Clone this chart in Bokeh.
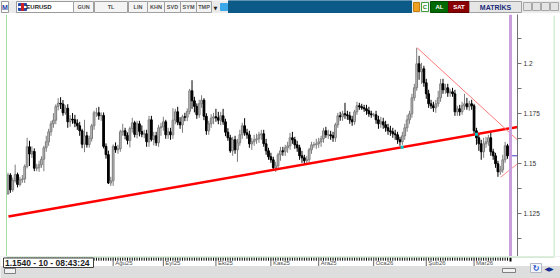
import numpy as np
from bokeh.plotting import figure
from bokeh.models import Range1d, LinearAxis, FixedTicker, Span
from bokeh.layouts import column, row
from bokeh.embed import file_html
from bokeh.resources import INLINE
from bokeh.core.properties import value

# ---------------- data (EURUSD daily candles) ----------------
first_open = 1.1350
closes = [
    1.1443, 1.1370, 1.1416, 1.1446, 1.1397, 1.1420, 1.1424, 1.1487, 1.1585, 1.1549,
    1.1562, 1.1478, 1.1480, 1.1495, 1.1523, 1.1580, 1.1610, 1.1660, 1.1700, 1.1718,
    1.1787, 1.1803, 1.1799, 1.1755, 1.1778, 1.1710, 1.1724, 1.1720, 1.1703, 1.1690,
    1.1665, 1.1598, 1.1640, 1.1596, 1.1626, 1.1690, 1.1755, 1.1755, 1.1740, 1.1742,
    1.1587, 1.1546, 1.1404, 1.1415, 1.1587, 1.1570, 1.1575, 1.1660, 1.1665, 1.1642,
    1.1617, 1.1676, 1.1705, 1.1647, 1.1700, 1.1662, 1.1648, 1.1650, 1.1610, 1.1720,
    1.1622, 1.1640, 1.1605, 1.1680, 1.1685, 1.1710, 1.1645, 1.1660, 1.1645, 1.1718,
    1.1760, 1.1708, 1.1695, 1.1735, 1.1733, 1.1762, 1.1865, 1.1815, 1.1787, 1.1745,
    1.1800, 1.1818, 1.1738, 1.1665, 1.1700, 1.1728, 1.1735, 1.1730, 1.1718, 1.1740,
    1.1710, 1.1658, 1.1630, 1.1565, 1.1620, 1.1570, 1.1605, 1.1645, 1.1690, 1.1655,
    1.1645, 1.1600, 1.1610, 1.1620, 1.1625, 1.1645, 1.1650, 1.1600, 1.1565, 1.1535,
    1.1520, 1.1480, 1.1490, 1.1545, 1.1565, 1.1560, 1.1580, 1.1590, 1.1630, 1.1620,
    1.1595, 1.1580, 1.1540, 1.1530, 1.1515, 1.1520, 1.1570, 1.1595, 1.1595, 1.1600,
    1.1610, 1.1625, 1.1665, 1.1645, 1.1645, 1.1640, 1.1630, 1.1695, 1.1740, 1.1735,
    1.1750, 1.1745, 1.1740, 1.1720, 1.1710, 1.1760, 1.1790, 1.1785, 1.1780, 1.1775,
    1.1765, 1.1750, 1.1745, 1.1745, 1.1720, 1.1700, 1.1710, 1.1695, 1.1680, 1.1665,
    1.1660, 1.1650, 1.1645, 1.1620, 1.1610, 1.1640, 1.1680, 1.1720, 1.1750, 1.1830,
    1.1880, 1.2000, 1.1960, 1.1975, 1.1905, 1.1850, 1.1800, 1.1790, 1.1780, 1.1800,
    1.1830, 1.1900, 1.1870, 1.1880, 1.1855, 1.1860, 1.1850, 1.1760, 1.1775, 1.1760,
    1.1790, 1.1800, 1.1785, 1.1800, 1.1790, 1.1665, 1.1630, 1.1600, 1.1560, 1.1600,
    1.1610, 1.1630, 1.1560, 1.1540, 1.1500, 1.1460, 1.1470, 1.1520, 1.1590, 1.1540,
]
upper_wick_pips = [
    12, 10, 15, 50, 10, 15, 20, 10, 45, 30,
    25, 15, 20, 20, 15, 10, 30, 15, 15, 35,
    10, 25, 30, 20, 15, 20, 20, 30, 25, 20,
    20, 10, 80, 20, 15, 10, 10, 25, 30, 15,
    15, 15, 20, 20, 10, 20, 20, 10, 35, 15,
    15, 10, 25, 10, 15, 15, 30, 20, 20, 20,
    20, 20, 20, 15, 20, 25, 10, 20, 20, 60,
    15, 25, 25, 10, 20, 15, 10, 53, 20, 15,
    20, 25, 10, 15, 15, 20, 20, 40, 30, 20,
    35, 15, 20, 15, 15, 20, 20, 25, 15, 38,
    20, 20, 20, 25, 25, 15, 20, 20, 25, 15,
    20, 15, 20, 10, 20, 20, 15, 20, 25, 30,
    15, 20, 15, 25, 15, 20, 10, 15, 15, 25,
    20, 15, 15, 20, 25, 20, 20, 10, 15, 20,
    15, 55, 20, 20, 20, 10, 20, 15, 15, 15,
    20, 20, 15, 10, 20, 20, 25, 20, 20, 20,
    25, 20, 20, 15, 15, 20, 20, 25, 15, 20,
    20, 80, 40, 30, 15, 20, 20, 20, 20, 20,
    35, 25, 25, 20, 20, 15, 20, 20, 15, 20,
    20, 50, 30, 15, 20, 10, 15, 25, 20, 30,
    25, 15, 35, 15, 15, 15, 20, 25, 20, 10,
]
lower_wick_pips = [
    5, 15, 10, 10, 15, 10, 15, 20, 10, 60,
    20, 15, 15, 20, 15, 60, 20, 20, 20, 20,
    20, 20, 25, 15, 10, 30, 25, 20, 20, 20,
    25, 20, 40, 15, 15, 15, 20, 20, 20, 25,
    10, 20, 5, 15, 25, 15, 20, 15, 20, 20,
    20, 35, 20, 15, 20, 25, 15, 20, 25, 25,
    10, 30, 15, 20, 40, 20, 20, 20, 25, 20,
    20, 15, 20, 40, 20, 20, 15, 40, 30, 20,
    15, 20, 20, 20, 20, 20, 30, 20, 20, 25,
    15, 20, 15, 10, 25, 20, 60, 15, 20, 15,
    20, 20, 30, 20, 20, 20, 25, 15, 20, 15,
    15, 10, 20, 20, 30, 20, 20, 25, 20, 20,
    20, 20, 20, 25, 20, 15, 15, 20, 15, 20,
    20, 25, 20, 15, 20, 20, 20, 20, 15, 20,
    20, 20, 20, 20, 20, 15, 15, 15, 10, 15,
    20, 15, 15, 10, 20, 25, 20, 20, 20, 20,
    20, 20, 25, 20, 20, 15, 20, 20, 20, 20,
    15, 15, 40, 60, 20, 25, 20, 15, 20, 25,
    15, 20, 20, 20, 20, 20, 15, 20, 20, 20,
    15, 20, 15, 20, 20, 20, 35, 35, 40, 30,
    20, 20, 20, 20, 20, 25, 15, 15, 15, 15,
]
month_labels = ["Ağu25", "Eyl25", "Eki25", "Kas25", "Ara25", "Oca26", "Şub26", "Mar26"]
month_start_idx = [44, 65, 87, 110, 130, 153, 175, 195]
y_major_ticks = [1.125, 1.15, 1.175, 1.2]
y_major_labels = ["1.125", "1.15", "1.175", "1.2"]
y_minor_ticks = [1.1125, 1.1375, 1.1625, 1.1875, 1.2125]
trend_main_x = [0.2, 213.2]
trend_main_y = [1.1237, 1.1684]
trend_upper_x = [171.2, 213.2]
trend_upper_y = [1.2080, 1.1619]
trend_small_x = [206.1, 213.2]
trend_small_y = [1.1433, 1.1500]
anchor_idx = [164.9, 196.0]
cursor_idx = 210.25
last_price = 1.1540
status_text = "1.1540 - 10 - 08:43:24"
symbol = "EURUSD"

# ---------------- layout constants ----------------
X0, K = 7.5, 2.39            # pixel of candle 0, pixels per candle
FRAME_W = 517                # chart frame right edge (price axis line)
Y_TOP = 1.2 + (63.3 - 14) / 2000.0
Y_BOT = 1.2 - (256 - 63.3) / 2000.0
FONT_NAME = "Liberation Sans"
FONT = value(FONT_NAME)
GREEN = "#a6dca6"


def px_to_idx(px):
    return (px - X0) / K


N = len(closes)
idx = np.arange(N)
c = np.array(closes)
o = np.array([first_open] + closes[:-1])
hi = np.maximum(o, c) + np.array(upper_wick_pips) / 10000.0
lo = np.minimum(o, c) - np.array(lower_wick_pips) / 10000.0
up = c >= o
body_fill = np.where(up, "#c4c4c4", "#000000")
body_line = np.where(up, "#7c7c7c", "#000000")

x_start = px_to_idx(0)
x_end = px_to_idx(FRAME_W)

# ---------------- main chart ----------------
p = figure(width=553, height=243, x_range=Range1d(x_start, x_end),
           y_range=Range1d(Y_BOT, Y_TOP), output_backend="svg",
           toolbar_location=None, x_axis_location=None, y_axis_location=None,
           min_border_left=0, min_border_top=1, min_border_right=36, min_border_bottom=0)
p.background_fill_color = "white"
p.border_fill_color = "white"
p.outline_line_color = None
p.grid.visible = False

p.add_layout(Span(location=px_to_idx(6), dimension="height", line_color=GREEN, line_width=1))

p.segment(x0=idx, y0=lo, x1=idx, y1=hi, line_color=list(body_line), line_width=1)
p.vbar(x=idx, width=0.72, top=np.maximum(o, c), bottom=np.minimum(o, c),
       fill_color=list(body_fill), line_color=list(body_line), line_width=1)

p.line(trend_main_x, trend_main_y, line_color="#ff0000", line_width=2.5)
p.line(trend_upper_x, trend_upper_y, line_color="#ff7878", line_width=1)
p.line(trend_small_x, trend_small_y, line_color="#ff8c8c", line_width=1)
p.scatter(anchor_idx, np.interp(anchor_idx, trend_main_x, trend_main_y),
          marker="square", size=3, fill_color="#00c8c8", line_color=None)

p.add_layout(Span(location=cursor_idx, dimension="height", line_color="#c9a0dc", line_width=3))
p.segment(x0=[cursor_idx], x1=[x_end], y0=[last_price], y1=[last_price],
          line_color="#3c3cc8", line_width=1)

yax = LinearAxis(ticker=FixedTicker(ticks=y_major_ticks, minor_ticks=y_minor_ticks),
                 major_label_overrides=dict(zip(y_major_ticks, y_major_labels)))
yax.axis_line_color = "#707070"
yax.major_tick_line_color = "#707070"
yax.minor_tick_line_color = "#707070"
yax.major_tick_in = 0
yax.major_tick_out = 4
yax.minor_tick_in = 0
yax.minor_tick_out = 4
yax.major_label_standoff = 2
yax.major_label_text_font = FONT_NAME
yax.major_label_text_font_size = "6.5px"
yax.major_label_text_color = "#303030"
p.add_layout(yax, "right")

# ---------------- right edge strip (green panel border) ----------------
s = figure(width=7, height=243, x_range=Range1d(0, 7), y_range=Range1d(243, 0),
           output_backend="svg", toolbar_location=None, x_axis_location=None,
           y_axis_location=None, min_border=0)
s.outline_line_color = None
s.grid.visible = False
s.background_fill_color = "white"
s.quad(left=[0], right=[1], top=[1], bottom=[243], fill_color=GREEN, line_color=None)

# ---------------- bottom: date axis strip + status bar ----------------
b_x_end = px_to_idx(560)
b = figure(width=560, height=22, x_range=Range1d(x_start, b_x_end), y_range=Range1d(22, 0),
           output_backend="svg", toolbar_location=None, x_axis_location=None,
           y_axis_location=None, min_border=0)
b.outline_line_color = None
b.grid.visible = False
b.background_fill_color = "#dedede"
# white date strip and green bottom border of the chart panel
b.quad(left=[x_start], right=[b_x_end], top=[0], bottom=[9.5], fill_color="white", line_color=None)
b.quad(left=[px_to_idx(6)], right=[px_to_idx(554)], top=[0], bottom=[1], fill_color=GREEN, line_color=None)
# day ticks and month ticks
b.segment(x0=idx, x1=idx, y0=[1.2] * N, y1=[4.2] * N, line_color="#000000", line_width=1)
b.segment(x0=month_start_idx, x1=month_start_idx, y0=[1.2] * len(month_start_idx),
          y1=[9.5] * len(month_start_idx), line_color="#6a6a6a", line_width=1)
b.segment(x0=[cursor_idx], x1=[cursor_idx], y0=[1.2], y1=[5], line_color="#000000", line_width=2)
b.text(x=month_start_idx, y=[6.3] * len(month_start_idx), text=month_labels, x_offset=2,
       text_font=FONT, text_font_size="6px", text_color="#505050",
       text_align="left", text_baseline="middle")
# status box
b.quad(left=[px_to_idx(3)], right=[px_to_idx(93)], top=[1.5], bottom=[11],
       fill_color="white", line_color="#404040", line_width=1)
b.text(x=[px_to_idx(4.5)], y=[6.5], text=[status_text], text_font=FONT,
       text_font_size="8.5px", text_font_style="bold", text_color="#202020",
       text_align="left", text_baseline="middle")
# status bar buttons
sb_boxes = [  # pixel left, right, top, bottom, fill, line
    (4, 15, 12, 17, "#f2f2f2", "#808080"),
    (502, 515, 12, 16, "#f2f2f2", "#808080"),
    (530, 541, 7, 16, "#f4f6fb", "#b0b8c8"),
]
b.quad(left=[px_to_idx(q[0]) for q in sb_boxes], right=[px_to_idx(q[1]) for q in sb_boxes],
       top=[q[2] for q in sb_boxes], bottom=[q[3] for q in sb_boxes],
       fill_color=[q[4] for q in sb_boxes], line_color=[q[5] for q in sb_boxes])
b.text(x=[px_to_idx(535.5), px_to_idx(548.5)], y=[11.5, 11.5], text=["↻", "◀▶"],
       text_font=value("DejaVu Sans"), text_font_size=["8px", "6px"],
       text_color=["#1850c8", "#0a2a90"], text_align="center", text_baseline="middle",
       text_font_style="bold")

# ---------------- top toolbar ----------------
t = figure(width=560, height=13, x_range=Range1d(0, 560), y_range=Range1d(13, 0),
           output_backend="svg", toolbar_location=None, x_axis_location=None,
           y_axis_location=None, min_border=0)
t.outline_line_color = None
t.grid.visible = False
t.background_fill_color = "#ebebeb"
chrome_boxes = [  # left, right, top, bottom, fill, line
    (1, 8, 1, 12, "#ffffff", "#9a9a9a"),
    (16, 73, 1, 12, "#ffffff", "#9a9a9a"),
    (73, 93, 1, 12, "#f4f4f4", "#a0a0a0"),
    (94, 127, 1, 12, "#f4f4f4", "#a0a0a0"),
    (128, 147, 1, 12, "#f4f4f4", "#a0a0a0"),
    (147, 164, 1, 12, "#f4f4f4", "#a0a0a0"),
    (164, 180, 1, 12, "#f4f4f4", "#a0a0a0"),
    (180, 196, 1, 12, "#f4f4f4", "#a0a0a0"),
    (196, 211, 1, 12, "#f4f4f4", "#a0a0a0"),
    (228, 411, 0, 13, "#0b5a87", None),
    (413, 419, 2, 11, "#f0a020", "#c08010"),
    (421, 428, 2, 11, "#ffffff", "#40a040"),
    (430, 448, 1, 12, "#006a00", "#004a00"),
    (448, 469, 1, 12, "#8a0000", "#600000"),
    (469, 521, 1, 12, "#e6e6e6", "#a0a0a0"),
    (523, 531, 2, 10, "#e4e4e4", "#a8a8a8"),
    (532, 540, 2, 10, "#e4e4e4", "#a8a8a8"),
    (541, 549, 2, 10, "#e4e4e4", "#a8a8a8"),
    (550, 558, 2, 10, "#e4e4e4", "#a8a8a8"),
    (18, 26, 3, 10, "#2a4aa8", None),
    (18, 26, 6, 7, "#ffffff", None),
    (21, 23, 3, 10, "#d02020", None),
    (220, 227, 3, 10, "#3aa8e8", None),
]
t.quad(left=[bx[0] for bx in chrome_boxes], right=[bx[1] for bx in chrome_boxes],
       top=[bx[2] for bx in chrome_boxes], bottom=[bx[3] for bx in chrome_boxes],
       fill_color=[bx[4] for bx in chrome_boxes],
       line_color=[bx[5] if bx[5] else bx[4] for bx in chrome_boxes], line_width=1)
chrome_texts = [  # x, text, color, size
    (4.5, "M", "#1f3f9f", "7px"),
    (38.5, symbol, "#202020", "6px"),
    (83, "GUN", "#505050", "5.5px"),
    (110.5, "TL", "#505050", "5.5px"),
    (137.5, "LIN", "#505050", "5.5px"),
    (155.5, "KHN", "#505050", "5.5px"),
    (172, "SVD", "#505050", "5.5px"),
    (188, "SYM", "#505050", "5.5px"),
    (203.5, "TMP", "#505050", "5.5px"),
    (424.5, "C", "#208020", "6px"),
    (439, "AL", "#ffffff", "6px"),
    (458.5, "SAT", "#ffffff", "6px"),
    (495, "MATRİKS", "#1a2a78", "7px"),
]
t.text(x=[tx[0] for tx in chrome_texts], y=[6.8] * len(chrome_texts),
       text=[tx[1] for tx in chrome_texts], text_color=[tx[2] for tx in chrome_texts],
       text_font_size=[tx[3] for tx in chrome_texts], text_font=FONT,
       text_font_style="bold", text_align="center", text_baseline="middle")
t.text(x=[215], y=[7], text=["▼"], text_font=value("DejaVu Sans"), text_font_size="5px",
       text_color="#202020", text_align="center", text_baseline="middle")

layout = column(t, row(p, s), b)
open("out.html", "w").write(file_html(layout, INLINE))
